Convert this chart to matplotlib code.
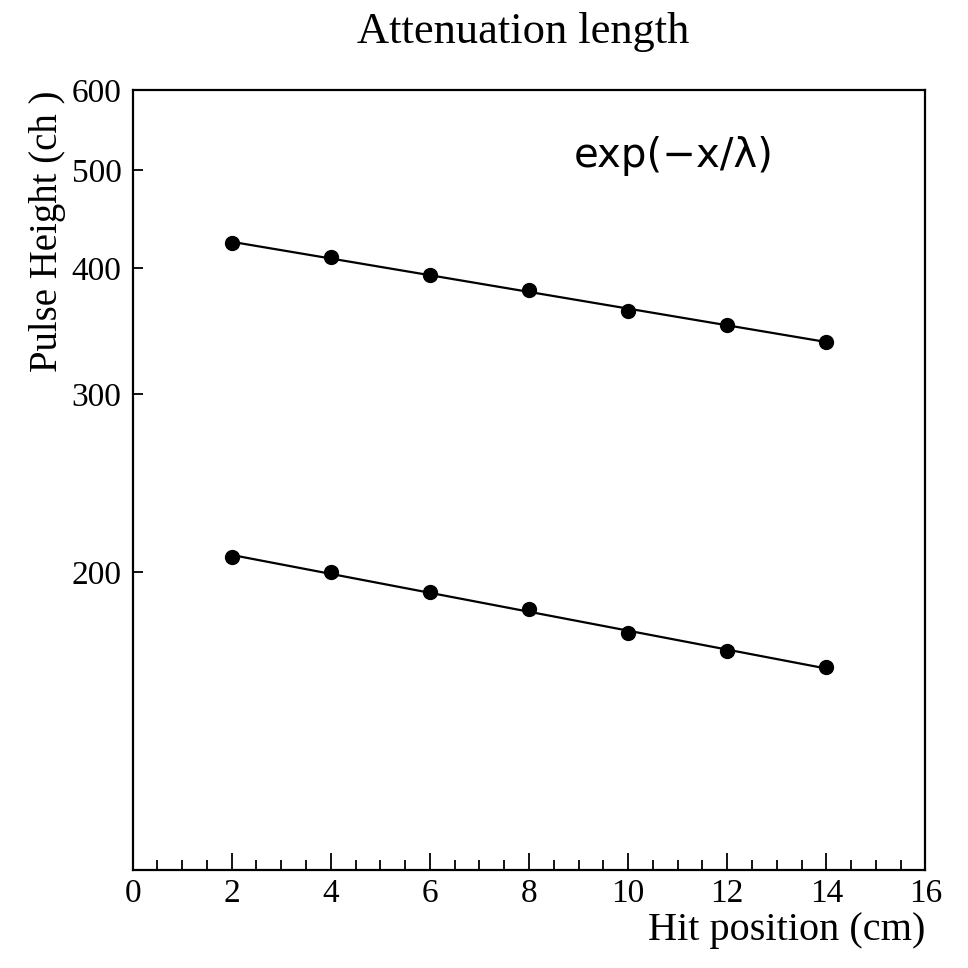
import numpy as np
import matplotlib
matplotlib.use('Agg')
import matplotlib.pyplot as plt
from matplotlib.ticker import MultipleLocator, NullLocator

# hit positions (cm)
hit_pos = [2, 4, 6, 8, 10, 12, 14]
# pulse heights (ch)
ph_upper = [423, 410, 394, 380, 363, 351, 338]
ph_lower = [207, 200, 191, 184, 174, 167, 161]

ytick_vals = [200, 300, 400, 500, 600]
ytick_labels = ['200', '300', '400', '500', '600']

plt.rcParams['font.family'] = ['Liberation Serif', 'DejaVu Serif']

fig = plt.figure(figsize=(9.68, 9.68), dpi=100)
ax = fig.add_axes([0.137, 0.101, 0.819, 0.806])

x = np.array(hit_pos, dtype=float)
for ph in (ph_upper, ph_lower):
    # exponential fit, drawn as straight line on log axis
    slope, icpt = np.polyfit(x, np.log(ph), 1)
    xf = np.array([x[0], x[-1]])
    ax.plot(xf, np.exp(icpt + slope * xf), color='black', lw=1.6)
    ax.plot(x, ph, 'o', color='black', ms=10)

ax.set_yscale('log')
ax.set_xlim(0, 16)
ax.set_ylim(101.4, 600)

ax.set_yticks(ytick_vals)
ax.set_yticklabels(ytick_labels)
ax.yaxis.set_minor_locator(NullLocator())

ax.xaxis.set_major_locator(MultipleLocator(2))
ax.xaxis.set_minor_locator(MultipleLocator(0.5))

ax.tick_params(axis='both', which='both', direction='in', top=False, right=False,
               width=1.3, labelsize=24)
ax.tick_params(axis='x', which='major', length=12, pad=6)
ax.tick_params(axis='x', which='minor', length=7)
ax.tick_params(axis='y', which='major', length=7, pad=8)
for s in ax.spines.values():
    s.set_linewidth(1.6)

ax.set_xlabel('Hit position (cm)', fontsize=29, loc='right', labelpad=2)
ax.set_ylabel('Pulse Height (ch )', fontsize=28, loc='top', labelpad=4)
fig.suptitle('Attenuation length', fontsize=32, x=0.54, y=0.988)

ax.text(0.556, 0.915, 'exp(\u2212x/\u03bb)', transform=ax.transAxes,
        fontsize=29, family=['DejaVu Sans'], ha='left', va='center')

fig.savefig('out.png', dpi=100)
